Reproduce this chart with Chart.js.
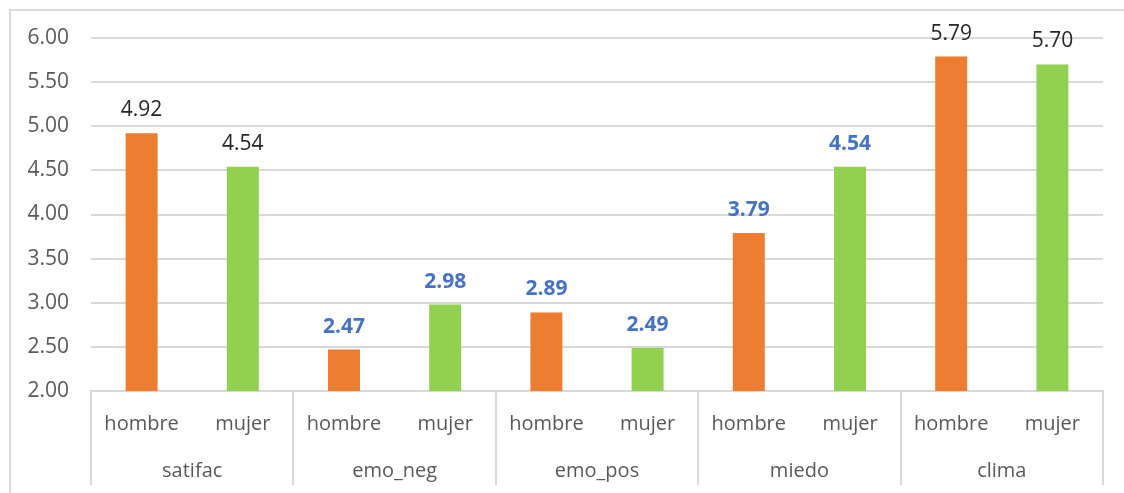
<!DOCTYPE html>
<html>
<head>
<meta charset="utf-8">
<script src="https://cdn.jsdelivr.net/npm/chart.js@4.4.1/dist/chart.umd.min.js"></script>
<style>
  html, body { margin: 0; padding: 0; background: #ffffff; overflow: hidden; }
  #wrap { position: relative; width: 1124px; height: 493px; }
  #frame { position: absolute; left: 9px; top: 9px; width: 1130px; height: 500px;
           border-top: 2px solid #d9d9d9; border-left: 2px solid #d9d9d9; box-sizing: border-box; }
  canvas { position: absolute; left: 0; top: 0; }
</style>
</head>
<body>
<div id="wrap">
  <div id="frame"></div>
  <canvas id="chart" width="1124" height="493"></canvas>
</div>
<script>
// Variables and sexes
const groups = ['satifac', 'emo_neg', 'emo_pos', 'miedo', 'clima'];
const sexes = ['hombre', 'mujer'];

// Mean score per variable
const hombreValues = [4.92, 2.47, 2.89, 3.79, 5.79];
const mujerValues  = [4.54, 2.98, 2.49, 4.54, 5.70];

// Variables whose value labels are highlighted
const highlighted = ['emo_neg', 'emo_pos', 'miedo'];

const yTicks = [2.00, 2.50, 3.00, 3.50, 4.00, 4.50, 5.00, 5.50, 6.00];

const ORANGE = '#ED7D31';
const GREEN = '#92D050';

// One bar per (variable, sex) pair
const labels = [];
const values = [];
const colors = [];
const labelHighlight = [];
groups.forEach((g, i) => {
  labels.push(sexes[0]); values.push(hombreValues[i]); colors.push(ORANGE); labelHighlight.push(highlighted.includes(g));
  labels.push(sexes[1]); values.push(mujerValues[i]);  colors.push(GREEN);  labelHighlight.push(highlighted.includes(g));
});

const FONT = '"Open Sans", "DejaVu Sans", sans-serif';
const NUM_SIZE = 21;
const WORD_SIZE = 20;

// Value labels above bars
const valueLabels = {
  id: 'valueLabels',
  afterDatasetsDraw(chart) {
    const ctx = chart.ctx;
    const meta = chart.getDatasetMeta(0);
    ctx.save();
    ctx.textAlign = 'center';
    ctx.textBaseline = 'alphabetic';
    meta.data.forEach((bar, i) => {
      if (labelHighlight[i]) {
        ctx.font = 'bold ' + NUM_SIZE + 'px ' + FONT;
        ctx.fillStyle = '#4472C4';
      } else {
        ctx.font = NUM_SIZE + 'px ' + FONT;
        ctx.fillStyle = '#262626';
      }
      ctx.fillText(values[i].toFixed(2), bar.x, bar.y - 17);
    });
    ctx.restore();
  }
};

// Second level of the category axis: dividers and variable names
const groupAxis = {
  id: 'groupAxis',
  afterDraw(chart) {
    const ctx = chart.ctx;
    const x = chart.scales.x;
    const top = x.top;
    const bottom = top + 94;
    const step = x.getPixelForValue(1) - x.getPixelForValue(0);
    ctx.save();
    ctx.strokeStyle = '#d9d9d9';
    ctx.lineWidth = 2;
    for (let g = 0; g <= groups.length; g++) {
      const px = Math.round(x.getPixelForValue(g * 2) - step / 2);
      ctx.beginPath();
      ctx.moveTo(px, top);
      ctx.lineTo(px, bottom);
      ctx.stroke();
    }
    ctx.font = WORD_SIZE + 'px ' + FONT;
    ctx.fillStyle = '#595959';
    ctx.textAlign = 'center';
    ctx.textBaseline = 'alphabetic';
    groups.forEach((g, i) => {
      const cx = (x.getPixelForValue(i * 2) + x.getPixelForValue(i * 2 + 1)) / 2;
      ctx.fillText(g, cx, top + 86);
    });
    ctx.restore();
  }
};

new Chart(document.getElementById('chart'), {
  type: 'bar',
  data: {
    labels: labels,
    datasets: [{
      data: values,
      backgroundColor: colors,
      borderWidth: 0,
      barPercentage: 1,
      categoryPercentage: 0.316
    }]
  },
  options: {
    responsive: false,
    animation: false,
    layout: { padding: { left: 9, top: 38, right: 21, bottom: 8 } },
    plugins: { legend: { display: false }, tooltip: { enabled: false } },
    scales: {
      x: {
        grid: { display: false, drawTicks: false },
        border: { display: true, color: '#d9d9d9', width: 2 },
        ticks: {
          color: '#595959',
          font: { family: FONT, size: WORD_SIZE },
          padding: 21,
          maxRotation: 0,
          autoSkip: false
        },
        afterFit(scale) { scale.height = 94; }
      },
      y: {
        min: 2,
        max: 6,
        afterBuildTicks(scale) { scale.ticks = yTicks.map(v => ({ value: v })); },
        grid: { color: '#d9d9d9', lineWidth: 2, drawTicks: false },
        border: { display: false },
        ticks: {
          color: '#595959',
          font: { family: FONT, size: NUM_SIZE },
          padding: 22,
          callback: v => Number(v).toFixed(2)
        },
        afterFit(scale) { scale.width = 82; }
      }
    }
  },
  plugins: [valueLabels, groupAxis]
});
</script>
</body>
</html>
